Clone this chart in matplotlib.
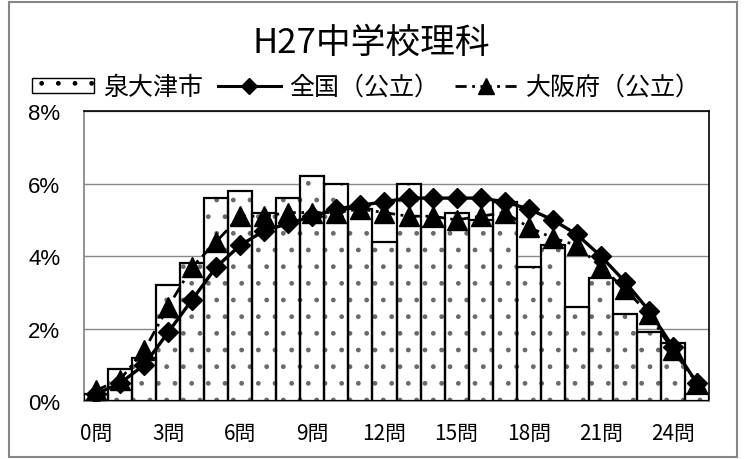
import matplotlib
matplotlib.use("Agg")
import matplotlib.pyplot as plt
import numpy as np
from matplotlib.patches import Rectangle, Patch
from matplotlib.lines import Line2D

plt.rcParams['font.family'] = ['Noto Sans CJK JP', 'DejaVu Sans']
plt.rcParams['hatch.linewidth'] = 1.0

# data (percent of students by number of correct answers)
questions = np.arange(26)
xtick_pos = [0, 3, 6, 9, 12, 15, 18, 21, 24]
xtick_labels = ['0問', '3問', '6問', '9問', '12問', '15問', '18問', '21問', '24問']
izumiotsu = [0.2, 0.9, 1.2, 3.2, 3.8, 5.6, 5.8, 5.2, 5.6, 6.2, 6.0, 5.3, 4.4,
             6.0, 4.8, 5.2, 5.0, 5.5, 3.7, 4.3, 2.6, 3.4, 2.4, 1.9, 1.6, 0.2]
zenkoku = [0.2, 0.5, 1.0, 1.9, 2.8, 3.7, 4.3, 4.7, 4.9, 5.1, 5.3, 5.4, 5.5,
           5.6, 5.6, 5.6, 5.6, 5.5, 5.3, 5.0, 4.6, 4.0, 3.3, 2.5, 1.5, 0.5]
osaka = [0.3, 0.6, 1.4, 2.6, 3.7, 4.4, 5.1, 5.1, 5.2, 5.2, 5.2, 5.3, 5.2,
         5.1, 5.1, 5.0, 5.1, 5.2, 4.8, 4.5, 4.3, 3.7, 3.1, 2.4, 1.4, 0.5]
yticks = [0, 2, 4, 6, 8]

fig = plt.figure(figsize=(7.46, 4.60), dpi=100)
ax = fig.add_axes([84 / 746, 1 - 402.3 / 460, 625 / 746, 290.3 / 460])

grid_gray = '#898989'
dot_gray = '#6a6a6a'

# bars: dotted fill first, black outline on top
ax.bar(questions, izumiotsu, width=1.0, color='white', edgecolor=dot_gray,
       hatch='.', linewidth=0, zorder=2)
ax.bar(questions, izumiotsu, width=1.0, fill=False, edgecolor='black',
       linewidth=1.6, zorder=3)

ax.plot(questions, zenkoku, color='black', lw=2.4, marker='D', ms=10,
        zorder=4)
ax.plot(questions, osaka, color='black', lw=2.0, ls=(0, (4, 2, 1, 2)),
        marker='^', ms=14.5, zorder=5)

ax.set_xlim(-0.5, 25.5)
ax.set_ylim(0, 8)
ax.set_yticks(yticks)
ax.set_yticklabels([f'{v}%' for v in yticks], family='Liberation Sans',
                   fontsize=16)
ax.set_xticks(xtick_pos)
ax.set_xticklabels(xtick_labels, fontsize=15)
ax.tick_params(axis='both', length=0)
ax.tick_params(axis='y', pad=17)
ax.tick_params(axis='x', pad=15)

ax.grid(axis='y', color=grid_gray, lw=1.0, zorder=0)
ax.set_axisbelow(True)
for side in ['left', 'bottom']:
    ax.spines[side].set_color(grid_gray)
    ax.spines[side].set_linewidth(1.3)
for side in ['top', 'right']:
    ax.spines[side].set_color('black')
    ax.spines[side].set_linewidth(1.2)

# title and legend
fig.text(0.498, 1 - 43 / 460, 'H27中学校理科', ha='center', va='center',
         fontsize=25)

handles = [
    Patch(facecolor='white', edgecolor=dot_gray, hatch='.', linewidth=0),
    Line2D([], [], color='black', lw=2.2, marker='D', ms=8.5),
    Line2D([], [], color='black', lw=2.0, ls=(0, (4, 2, 1, 2)),
           marker='^', ms=11),
]
labels = ['泉大津市', '全国（公立）', '大阪府（公立）']
leg = fig.legend(handles, labels, loc='center', ncol=3,
                 bbox_to_anchor=(0.491, 1 - 88 / 460), frameon=False,
                 fontsize=18, handlelength=2.5, handleheight=0.55,
                 handletextpad=0.36, columnspacing=0.6, borderaxespad=0)
# black outline of the bar legend key
leg.legend_handles[0].set_edgecolor('black')
leg.legend_handles[0].set_linewidth(1.0)

# chart area border
fig.patches.append(Rectangle((9 / 746, 1 - 458 / 460), 728 / 746, 455 / 460,
                             transform=fig.transFigure, fill=False,
                             edgecolor='#868686', lw=1.5))

fig.savefig('out.png', dpi=100)
